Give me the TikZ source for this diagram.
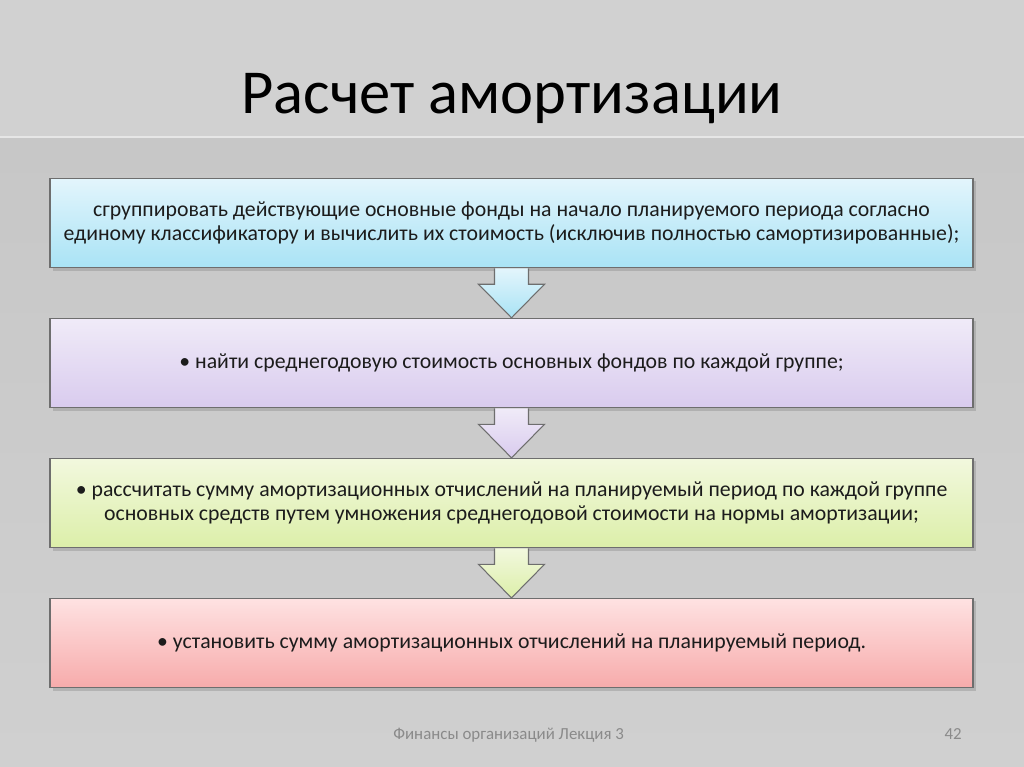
\documentclass[tikz,border=0pt]{standalone}
\usepackage{fontspec}
\setmainfont{Carlito}
\usetikzlibrary{positioning,calc,shadows}

\definecolor{bgtop}{HTML}{D1D1D1}
\definecolor{bgmain}{HTML}{C7C7C7}
\definecolor{bglow}{HTML}{D0D0D0}
\definecolor{boxedge}{HTML}{6E6E6E}
\definecolor{textdark}{HTML}{1C1C1C}
\definecolor{footgray}{HTML}{8A8A8A}
\definecolor{bluetop}{HTML}{E3F5FC}
\definecolor{bluebot}{HTML}{A9E3F5}
\definecolor{lilactop}{HTML}{F0EBF8}
\definecolor{lilacbot}{HTML}{D9CBEE}
\definecolor{greentop}{HTML}{F2F8DE}
\definecolor{greenbot}{HTML}{DCEFA9}
\definecolor{pinktop}{HTML}{FEE2E2}
\definecolor{pinkbot}{HTML}{F7ABAB}

\tikzstyle{stepbox}=[draw=boxedge,line width=0.6pt,minimum width=18.46cm,minimum height=1.79cm,
  align=center,text=textdark,font=\fontsize{12.4}{13.4}\selectfont,
  drop shadow={opacity=0.35,shadow xshift=0.06cm,shadow yshift=-0.06cm}]
\tikzstyle{blockarrow}=[draw=boxedge,line width=0.6pt]

\begin{document}
\begin{tikzpicture}
\useasboundingbox (0,0) rectangle (20.48,-15.34);
% slide background
\fill[bottom color=bglow,top color=bgmain] (0,-2.74) rectangle (20.48,-15.34);
\fill[bgtop] (0,0) rectangle (20.48,-2.74);
\draw[white!45!bgtop,line width=0.8pt] (0,-2.74) -- (20.48,-2.74);

\node[anchor=base,font=\fontsize{35.6}{38}\selectfont,text=black] (title) at (10.24,-2.28) {Расчет амортизации};

\node[stepbox,top color=bluetop,bottom color=bluebot] (group) at (10.23,-4.46)
  {сгруппировать действующие основные фонды на начало планируемого периода согласно\\
   единому классификатору и вычислить их стоимость (исключив полностью самортизированные);};
\node[stepbox,top color=lilactop,bottom color=lilacbot,below=0.99cm of group] (average)
  {• найти среднегодовую стоимость основных фондов по каждой группе;};
\node[stepbox,top color=greentop,bottom color=greenbot,below=0.99cm of average] (compute)
  {• рассчитать сумму амортизационных отчислений на планируемый период по каждой группе\\
   основных средств путем умножения среднегодовой стоимости на нормы амортизации;};
\node[stepbox,top color=pinktop,bottom color=pinkbot,below=0.99cm of compute] (total)
  {• установить сумму амортизационных отчислений на планируемый период.};

\foreach \a/\b/\ct/\cb in {group/average/bluetop/bluebot,average/compute/lilactop/lilacbot,compute/total/greentop/greenbot}
  \draw[blockarrow,top color=\ct,bottom color=\cb]
    ($(\a.south)+(-0.34,0)$) -- ++(0,-0.32) -- ++(-0.32,0) -- (\b.north)
    -- ($(\a.south)+(0.66,-0.32)$) -- ++(-0.32,0) -- ++(0,0.32);

% footer
\node[anchor=base west,inner sep=0pt,font=\fontsize{9.6}{11}\selectfont,text=footgray] (foot) at (7.86,-14.8) {Финансы организаций Лекция 3};
\node[anchor=base east,inner sep=0pt,font=\fontsize{9.6}{11}\selectfont,text=footgray] (page) at (19.24,-14.8) {42};
\end{tikzpicture}
\end{document}
